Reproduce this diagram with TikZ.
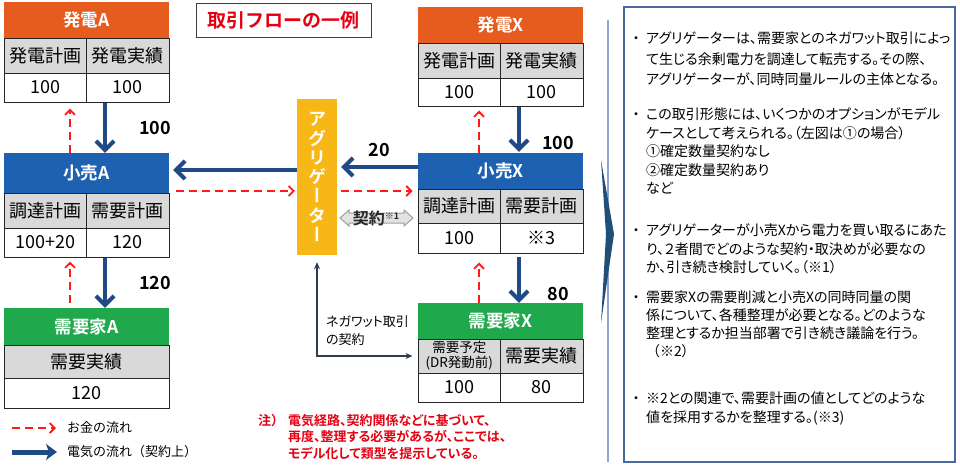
\documentclass[tikz,border=0pt]{standalone}
\usepackage{fontspec}
\setmainfont{Noto Sans CJK JP}[BoldFont={* Bold}]
\newfontfamily\vjp{Noto Sans CJK JP}[BoldFont={* Bold},RawFeature=+vert]
\newfontfamily\pjp{Noto Sans CJK JP}[BoldFont={* Bold},RawFeature=+palt]
\usetikzlibrary{arrows.meta}
\definecolor{cOrange}{HTML}{E65C1F}
\definecolor{cBlue}{HTML}{1E61B0}
\definecolor{cGreen}{HTML}{1FA84C}
\definecolor{cGray}{HTML}{D9D9D9}
\definecolor{cNavy}{HTML}{1F4A86}
\definecolor{cRed}{HTML}{FF1A1A}
\definecolor{cRedText}{HTML}{E60012}
\definecolor{cYellow}{HTML}{F7B716}
\definecolor{cSlate}{HTML}{2E3D4F}
\definecolor{cBox}{HTML}{4A69A0}
\definecolor{cLine}{HTML}{8EA6CF}
\definecolor{cChev}{HTML}{1F4E79}
\newcommand\fsz[2]{\fontsize{#1}{#2}\selectfont}
\newcommand\bul{{\rmfamily ・}}
\begin{document}
\begin{tikzpicture}[x=1pt,y=-1pt,
 hdr/.style={minimum width=165, inner sep=0, text=white, font=\bfseries\fsz{17.5}{20}},
 hO/.style={hdr, fill=cOrange}, hB/.style={hdr, fill=cBlue}, hG/.style={hdr, fill=cGreen},
 cell/.style={draw=black!85, line width=1, inner sep=0, minimum width=82.5, font=\fsz{18}{20}},
 cg/.style={cell, fill=cGray}, cw/.style={cell, fill=white},
 elec/.style={draw=cNavy, line width=4, -{Straight Barb[length=9,width=18]}},
 money/.style={draw=cRed, line width=1.8, dash pattern=on 8 off 5, -{Straight Barb[length=5,width=10]}},
 lbl/.style={font=\bfseries\fsz{18}{20}, inner sep=0},
 nega/.style={draw=cSlate, line width=1.3, {Stealth[length=7,width=6]}-{Stealth[length=7,width=6]}},
 para/.style={anchor=north west, inner sep=0, align=left}
]
\useasboundingbox (0,0) rectangle (960,466);

% ---- A column
\node[hO, minimum height=36] (gA) at (86.5,20) {発電A};
\node[cg, minimum height=35] (gA1) at (45.25,55.5) {発電計画};
\node[cg, minimum height=35] (gA2) at (127.75,55.5) {発電実績};
\node[cw, minimum height=29] (gA3) at (45.25,87.5) {100};
\node[cw, minimum height=29] (gA4) at (127.75,87.5) {100};

\node[hB, minimum height=40] (rA) at (86.5,173) {小売A};
\node[cg, minimum height=35] (rA1) at (45.25,210.5) {調達計画};
\node[cg, minimum height=35] (rA2) at (127.75,210.5) {需要計画};
\node[cw, minimum height=29] (rA3) at (45.25,242.5) {100+20};
\node[cw, minimum height=29] (rA4) at (127.75,242.5) {120};

\node[hG, minimum height=37] (dA) at (86.5,326.5) {需要家A};
\node[cg, minimum width=165, minimum height=33] (dA1) at (86.5,361.5) {需要実績};
\node[cw, minimum width=165, minimum height=30] (dA2) at (86.5,393) {120};

% ---- X column
\node[hO, minimum height=36] (gX) at (500.5,25) {発電X};
\node[cg, minimum height=35] (gX1) at (459.25,60.5) {発電計画};
\node[cg, minimum height=35] (gX2) at (541.75,60.5) {発電実績};
\node[cw, minimum height=28] (gX3) at (459.25,92) {100};
\node[cw, minimum height=28] (gX4) at (541.75,92) {100};

\node[hB, minimum height=36] (rX) at (500.5,171) {小売X};
\node[cg, minimum height=34] (rX1) at (459.25,206) {調達計画};
\node[cg, minimum height=34] (rX2) at (541.75,206) {需要計画};
\node[cw, minimum height=30] (rX3) at (459.25,238) {100};
\node[cw, minimum height=30] (rX4) at (541.75,238) {※3};

\node[hG, minimum height=36] (dX) at (500.5,321) {需要家X};
\node[cg, minimum height=34, font=\fsz{13.5}{15}, align=center] (dX1) at (459.25,356) {需要予定\\(DR発動前)};
\node[cg, minimum height=34] (dX2) at (541.75,356) {需要実績};
\node[cw, minimum height=29] (dX3) at (459.25,387.5) {100};
\node[cw, minimum height=29] (dX4) at (541.75,387.5) {80};

% ---- aggregator and title
\node[fill=cYellow, minimum width=40, minimum height=156, inner sep=0, text=white,
      font=\vjp\bfseries\fsz{18}{19.3}, align=center] (ag) at (317,177) {ア\\グ\\リ\\ゲ\\ー\\タ\\ー};
\node[draw=black!75, line width=1, minimum width=175, minimum height=34, inner sep=0,
      text=cRedText, font=\bfseries\fsz{19}{22}] (title) at (283.5,20) {取引フローの一例};

% ---- flows A
\draw[elec] (105,0 |- gA4.south) -- (105,0 |- rA.north);
\draw[money, shorten >=6] (70,0 |- rA.north) -- (70,0 |- gA3.south);
\draw[elec] (105,0 |- rA4.south) -- (105,0 |- dA.north);
\draw[money, shorten <=5, shorten >=4] (70,0 |- dA.north) -- (70,0 |- rA3.south);
\draw[elec, shorten >=4] (ag.west |- 0,170) -- (rA.east |- 0,170);
\draw[money, shorten <=7, shorten >=2] (rA.east |- 0,191) -- (ag.west |- 0,191);

% ---- flows X
\draw[elec, shorten >=1] (519,0 |- gX4.south) -- (519,0 |- rX.north);
\draw[money, shorten >=4] (479,0 |- rX.north) -- (479,0 |- gX3.south);
\draw[elec, shorten <=3] (519,0 |- rX4.south) -- (519,0 |- dX.north);
\draw[money, shorten >=9] (479,0 |- dX.north) -- (479,0 |- rX3.south);
\draw[elec, shorten >=4] (rX.west |- 0,167) -- (ag.east |- 0,167);
\draw[money, shorten <=4, shorten >=5] (ag.east |- 0,191) -- (rX1.west |- 0,191);

% ---- labels
\node[lbl] (l100a) at (155,128) {100};
\node[lbl] (l120a) at (155,283) {120};
\node[lbl] (l20) at (379,150) {20};
\node[lbl] (l100x) at (558,143) {100};
\node[lbl] (l80x) at (558,294) {80};

% ---- contract double arrow
\filldraw[draw=gray!75, fill=gray!22, line width=1] (340,218) -- (349,210) -- (349,213) -- (404,213) -- (404,210) -- (413,218) -- (404,226) -- (404,223) -- (349,223) -- (349,226) -- cycle;
\node[font=\bfseries\fsz{16}{18}, inner sep=0, text=black!85] (kei) at (376,218) {契約\raisebox{5pt}{\fsz{9}{10}※1}};

% ---- negawatt contract
\draw[nega] ([yshift=-7]ag.south) |- ([xshift=-5]dX1.west);
\node[para, anchor=west, font=\pjp\fsz{13}{18}] (negl) at (326,331) {ネガワット取引\\の契約};

% ---- legend
\coordinate (m1) at (12,428); \coordinate (m2) at (56,428);
\draw[money] (m1) -- (m2);
\node[anchor=west, inner sep=0, font=\fsz{13}{15}] (mt) at (67,428) {お金の流れ};
\coordinate (e1) at (12,452); \coordinate (e2) at (57,452);
\draw[draw=cNavy, line width=5, -{Stealth[length=11,width=16,inset=3]}] (e1) -- (e2);
\node[anchor=west, inner sep=0, font=\fsz{13}{15}] (et) at (67,452) {電気の流れ（契約上）};

% ---- note
\node[para, text=cRedText, font=\pjp\bfseries\fsz{13}{16.5}] (note) at (258,413.4) {\begin{tabular}[t]{@{}p{30pt}@{}l@{}}{\rmfamily\bfseries 注）}& 電気経路、契約関係などに基づいて、\\ & 再度、整理する必要があるが、ここでは、\\ & モデル化して類型を提示している。\end{tabular}};

% ---- chevron and right box
\draw[cLine, line width=1.5] (608,20) -- (608,462);
\fill[cChev] (601,160) -- (614,234) -- (601,323) -- (606,234) -- cycle;
\node[draw=cBox, line width=1.5, minimum width=331, minimum height=455, inner sep=0] (info) at (789.5,234.5) {};

\node[para, font=\pjp\fsz{14}{20.5}] (p1) at (629,28.95) {\begin{tabular}[t]{@{}p{17pt}@{}l@{}}\bul & アグリゲーターは、需要家とのネガワット取引によっ\\ & て生じる余剰電力を調達して転売する。その際、\\ & アグリゲーターが、同時同量ルールの主体となる。\end{tabular}};
\node[para, font=\pjp\fsz{14}{18.5}] (p2) at (629,106.35) {\begin{tabular}[t]{@{}p{17pt}@{}l@{}}\bul & この取引形態には、いくつかのオプションがモデル\\ & ケースとして考えられる。（左図は①の場合）\\ & ①確定数量契約なし\\ & ②確定数量契約あり\\ & など\end{tabular}};
\node[para, font=\pjp\fsz{14}{18.5}] (p3) at (629,222.35) {\begin{tabular}[t]{@{}p{17pt}@{}l@{}}\bul & アグリゲーターが小売Xから電力を買い取るにあた\\ & り、２者間でどのような契約・取決めが必要なの\\ & か、引き続き検討していく。（※1）\end{tabular}};
\node[para, font=\pjp\fsz{14}{18}] (p4) at (629,289.7) {\begin{tabular}[t]{@{}p{17pt}@{}l@{}}\bul & 需要家Xの需要削減と小売Xの同時同量の関\\ & 係について、各種整理が必要となる。どのような\\ & 整理とするか担当部署で引き続き議論を行う。\\ & {\rmfamily （}※2）\end{tabular}};
\node[para, font=\pjp\fsz{14}{19}] (p5) at (629,390) {\begin{tabular}[t]{@{}p{17pt}@{}l@{}}\bul & ※2との関連で、需要計画の値としてどのような\\ & 値を採用するかを整理する。(※3)\end{tabular}};
\end{tikzpicture}
\end{document}
